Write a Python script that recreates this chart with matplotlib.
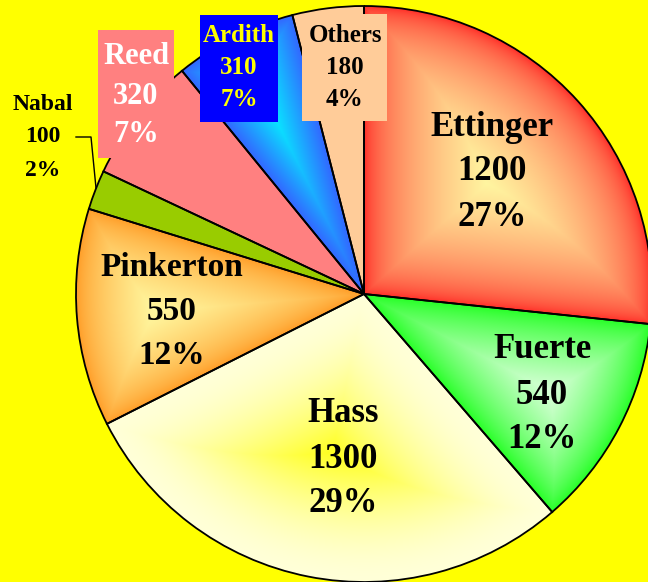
import numpy as np
import matplotlib
matplotlib.use('Agg')
import matplotlib.pyplot as plt
from matplotlib.colors import to_rgb
from matplotlib.patches import Rectangle

# ── Data ─────────────────────────────────────────────────────
varieties = ["Ettinger", "Fuerte", "Hass", "Pinkerton", "Nabal", "Reed", "Ardith", "Others"]
tonnes = [1200, 540, 1300, 550, 100, 320, 310, 180]

# slice colours: (edge colour, centre colour) – same twice means flat fill
edge_colors = ["#FF1E1E", "#22FF22", "#FFFFD8", "#FF9922", "#99CC00", "#FF8080", "#3366FF", "#FFCC99"]
centre_colors = ["#FFF5A0", "#D8FFD8", "#FFFF22", "#FFF8A0", "#99CC00", "#FF8080", "#00FFFF", "#FFCC99"]
gammas = [0.5, 0.75, 1.7, 0.65, 1, 1, 1, 1]

W, H = 648, 582
cx, cy, R = 364, 294, 288

fig = plt.figure(figsize=(W / 100, H / 100), dpi=100)
fig.patch.set_facecolor("#FFFF00")
ax = fig.add_axes([0, 0, 1, 1])
ax.set_facecolor("#FFFF00")

# y axis is flipped, so startangle=-90 is straight up and "counterclock" runs clockwise on screen
wedges, _ = ax.pie(tonnes, center=(cx, cy), radius=R, startangle=-90, counterclock=True,
                   wedgeprops=dict(edgecolor="black", linewidth=1.3, facecolor="none"))
for w in wedges:
    w.set_facecolor("none")

ax.set_xlim(0, W)
ax.set_ylim(H, 0)
ax.set_aspect("equal")
ax.axis("off")

# ── Path-style gradient fill for each slice ──────────────────
xs = np.arange(W) + 0.5
ys = np.arange(H) + 0.5
X, Y = np.meshgrid(xs, ys)
dx, dy = X - cx, Y - cy
r = np.hypot(dx, dy)
theta = np.degrees(np.arctan2(dy, dx))
img = np.zeros((H, W, 4))

for w, ec, cc, g in zip(wedges, edge_colors, centre_colors, gammas):
    t1, t2 = w.theta1, w.theta2
    ang = (theta - t1) % 360
    inside = (ang <= (t2 - t1)) & (r <= R)
    dists = [R - r]
    for a in (np.radians(t1), np.radians(t2)):
        proj = dx * np.cos(a) + dy * np.sin(a)
        perp = np.abs(dx * np.sin(a) - dy * np.cos(a))
        dists.append(np.where(proj > 0, perp, r))
    d = np.minimum.reduce(dists)
    s = np.clip(d / d[inside].max(), 0, 1) ** g
    e, c = np.array(to_rgb(ec)), np.array(to_rgb(cc))
    col = e + (c - e) * s[..., None]
    img[inside, :3] = col[inside]
    img[inside, 3] = 1.0

ax.imshow(img, extent=(0, W, H, 0), origin="upper", zorder=0.5, interpolation="bilinear")

# ── Labels ───────────────────────────────────────────────────
total = sum(tonnes)
pcts = [f"{round(v / total * 100)}%" for v in tonnes]

font = "Liberation Serif"
# (x, y of middle line, line step, font size, text colour)
label_pos = {
    "Ettinger": (492, 172, 45, 25, "black"),
    "Fuerte": (542, 395, 45, 25, "black"),
    "Hass": (343, 459, 45, 25, "black"),
    "Pinkerton": (172, 312, 44, 24, "black"),
    "Nabal": (43, 137, 33, 17, "black"),
    "Reed": (136, 96, 39, 22, "white"),
    "Ardith": (239, 68, 32, 18, "#FFFF00"),
    "Others": (345, 68, 32, 18, "black"),
}

# label boxes (x, y, width, height, colour)
boxes = {
    "Reed": (98, 30, 76, 128, "#FF8080"),
    "Ardith": (200, 15, 78, 107, "#0000FF"),
    "Others": (302, 14, 85, 107, "#FFCC99"),
}
for name, (bx, by, bw, bh, bc) in boxes.items():
    ax.add_patch(Rectangle((bx, by), bw, bh, facecolor=bc, edgecolor="none", zorder=2))

for name, val, pct in zip(varieties, tonnes, pcts):
    x, y, step, size, color = label_pos[name]
    for k, line in enumerate([name, str(val), pct]):
        ax.text(x, y + (k - 1) * step, line, ha="center", va="center", fontsize=size,
                fontweight="bold", family=font, color=color, zorder=3)

# leader line for the small Nabal slice
ax.plot([76, 91, 96], [137, 137, 188], color="black", linewidth=1, zorder=3)

plt.savefig("out.png", dpi=100, facecolor=fig.get_facecolor())
plt.close()
